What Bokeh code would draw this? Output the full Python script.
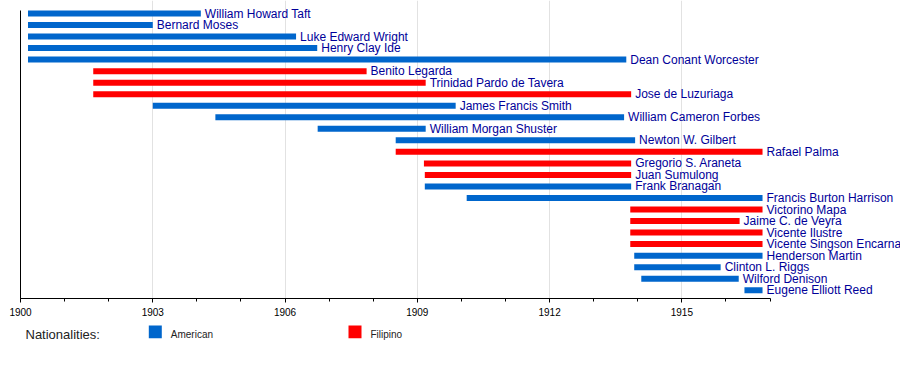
from bokeh.plotting import figure
from bokeh.models import ColumnDataSource, Range1d, FixedTicker, LabelSet
from bokeh.layouts import column
from bokeh.core.properties import value
from bokeh.embed import file_html
from bokeh.resources import INLINE

names = ["William Howard Taft", "Bernard Moses", "Luke Edward Wright", "Henry Clay Ide",
         "Dean Conant Worcester", "Benito Legarda", "Trinidad Pardo de Tavera",
         "Jose de Luzuriaga", "James Francis Smith", "William Cameron Forbes",
         "William Morgan Shuster", "Newton W. Gilbert", "Rafael Palma",
         "Gregorio S. Araneta", "Juan Sumulong", "Frank Branagan",
         "Francis Burton Harrison", "Victorino Mapa", "Jaime C. de Veyra",
         "Vicente Ilustre", "Vicente Singson Encarnacion", "Henderson Martin",
         "Clinton L. Riggs", "Wilford Denison", "Eugene Elliott Reed"]
starts = [1900.17, 1900.17, 1900.17, 1900.17, 1900.17, 1901.65, 1901.65, 1901.65,
          1903.0, 1904.42, 1906.74, 1908.51, 1908.51, 1909.15, 1909.17, 1909.17,
          1910.12, 1913.83, 1913.83, 1913.83, 1913.83, 1913.92, 1913.92, 1914.08,
          1916.42]
ends = [1904.09, 1903.0, 1906.25, 1906.73, 1913.74, 1907.85, 1909.19, 1913.85,
        1909.87, 1913.69, 1909.19, 1913.94, 1916.83, 1913.85, 1913.85, 1913.85,
        1916.83, 1916.83, 1916.31, 1916.83, 1916.83, 1916.83, 1915.88, 1916.29,
        1916.83]
nationality = ["American", "American", "American", "American", "American",
               "Filipino", "Filipino", "Filipino", "American", "American",
               "American", "American", "Filipino", "Filipino", "Filipino",
               "American", "American", "Filipino", "Filipino", "Filipino",
               "Filipino", "American", "American", "American", "American"]
legend_title = "Nationalities:"
legend_labels = ["American", "Filipino"]
nat_colors = {"American": "#0066CC", "Filipino": "#FF0000"}
year_start, year_end = 1900, 1917
major_years = list(range(1900, 1916, 3))
minor_years = list(range(1900, 1918))

rows = list(range(len(names)))
FONT = "Liberation Sans"
TEXT_BLUE = "#000099"

# ---------------- main timeline ----------------
PX_PER_YEAR = 44.09
PX_PER_ROW = 11.53
W, H_MAIN = 900, 322
left_border, bottom_border = 20, 24
axis_top_px, first_row_px, axis_bottom_px = 10, 13, 298
x_end = year_start + (W - left_border) / PX_PER_YEAR
y_top = -first_row_px / PX_PER_ROW
y_bottom = y_top + axis_bottom_px / PX_PER_ROW
y_axis_top = y_top + axis_top_px / PX_PER_ROW

p = figure(width=W, height=H_MAIN, output_backend="svg", toolbar_location=None,
           x_range=Range1d(year_start, x_end), y_range=Range1d(y_bottom, y_top),
           min_border_left=left_border, min_border_right=0, min_border_top=0,
           min_border_bottom=bottom_border, outline_line_color=None)

colors = [nat_colors[n] for n in nationality]
src = ColumnDataSource(dict(y=rows, left=starts, right=ends, color=colors))
p.hbar(y="y", left="left", right="right", height=0.52, source=src,
       fill_color="color", line_color=None)

lab_src = ColumnDataSource(dict(x=ends, y=rows, text=names))
p.add_layout(LabelSet(x="x", y="y", text="text", source=lab_src, x_offset=4,
                      text_baseline="middle", text_font=value(FONT),
                      text_font_size="12px", text_color=TEXT_BLUE))

xa = p.xaxis[0]
xa.ticker = FixedTicker(ticks=major_years, minor_ticks=minor_years)
xa.bounds = (year_start, year_end)
xa.major_label_text_font = FONT
xa.major_label_text_font_size = "10px"
xa.major_label_text_color = "#000000"
xa.axis_line_color = "#000000"
xa.major_tick_line_color = "#000000"
xa.minor_tick_line_color = "#000000"
xa.major_tick_in = 0
xa.major_tick_out = 4
xa.minor_tick_in = 0
xa.minor_tick_out = 3
xa.major_label_standoff = 5

ya = p.yaxis[0]
ya.ticker = FixedTicker(ticks=[])
ya.bounds = (y_axis_top, y_bottom)
ya.major_tick_line_color = None
ya.minor_tick_line_color = None
ya.major_tick_out = 0
ya.major_label_standoff = 0
ya.axis_line_color = "#000000"

p.xgrid.grid_line_color = "#e2e2e2"
p.xgrid.bounds = (y_axis_top, y_bottom)
p.ygrid.grid_line_color = None

# ---------------- legend strip ----------------
H_LEG = 388 - H_MAIN
q = figure(width=W, height=H_LEG, output_backend="svg", toolbar_location=None,
           x_range=Range1d(left_border, W), y_range=Range1d(H_LEG, 0),
           x_axis_type=None, y_axis_type=None, min_border=0,
           min_border_left=left_border, outline_line_color=None)
q.xgrid.grid_line_color = None
q.ygrid.grid_line_color = None

sw_x = [148.3, 348.0]
sw_src = ColumnDataSource(dict(left=sw_x, right=[x + 13 for x in sw_x],
                               top=[3.0, 3.0], bottom=[15.7, 15.7],
                               color=[nat_colors[n] for n in legend_labels],
                               tx=[x + 22 for x in sw_x], ty=[11.5, 11.5],
                               label=legend_labels))
q.quad(left="left", right="right", top="top", bottom="bottom", fill_color="color",
       line_color=None, source=sw_src)
q.text(x="tx", y="ty", text="label", source=sw_src, text_font=value(FONT),
       text_font_size="10px", text_baseline="middle", text_color="#222222")
q.text(x=[25], y=[12], text=[legend_title], text_font=value(FONT),
       text_font_size="13px", text_baseline="middle", text_color="#222222")

layout = column(p, q, spacing=0)
open("out.html", "w").write(file_html(layout, INLINE))
